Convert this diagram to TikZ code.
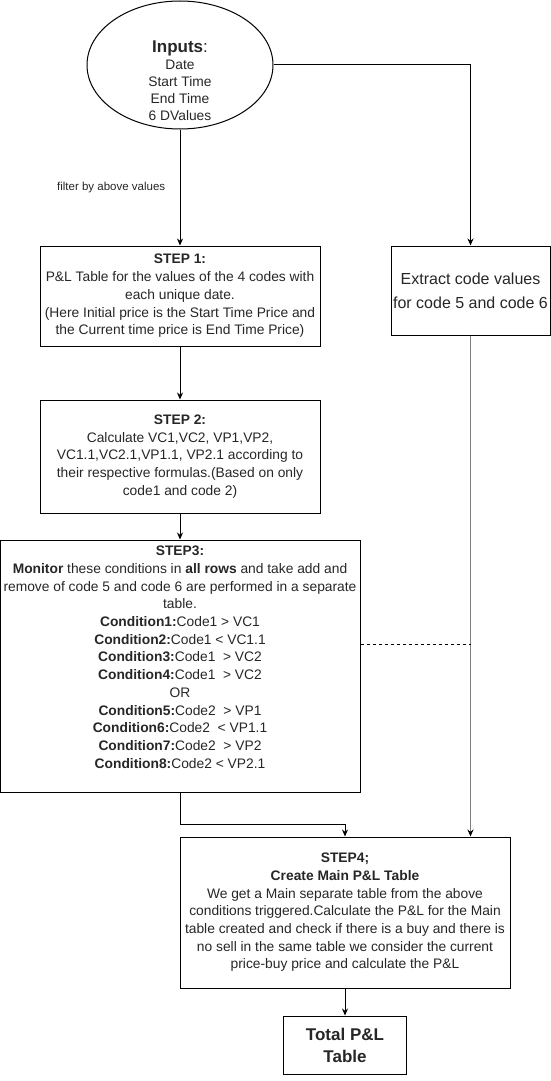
\documentclass[tikz,border=0pt]{standalone}
\usepackage{fontspec}
\setmainfont{Liberation Sans}
\usetikzlibrary{arrows.meta,positioning,shapes.geometric,calc}

\begin{document}
\begin{tikzpicture}[
  x=1pt, y=1pt,
  font=\fontsize{13.8}{17.7}\selectfont,
  n/.style={draw, line width=1pt, align=center, inner sep=0pt, text=black!85},
  d/.style={-{Stealth[length=7pt,width=6pt]}, line width=1pt},
  dg/.style={-{Stealth[length=7pt,width=6pt,color=black]}, line width=1pt, draw=black!50}
]
\useasboundingbox (0,0) rectangle (550,-1081);
\node[draw, ellipse, line width=1pt, minimum width=186pt, minimum height=128pt] (in) at (180,-65) {};
\node[align=center, text=black!85, font=\fontsize{13.8}{17}\selectfont] (intxt) at ([yshift=-16pt]in.center)
  {{\fontsize{17}{18}\selectfont\textbf{Inputs}:}\\Date\\Start Time\\End Time\\6 DValues};
\node[n, minimum width=280pt, minimum height=100pt, below=116pt of in] (s1)
  {\textbf{STEP 1:}\\P\&L Table for the values of the 4 codes with\\each unique date.\\(Here Initial price is the Start Time Price and\\the Current time price is End Time Price)};
\node[n, minimum width=159pt, minimum height=89pt, font=\fontsize{16}{24}\selectfont,
  below right=0pt and 70pt of s1.north east] (ex) {Extract code values\\for code 5 and code 6};
\node[n, minimum width=280pt, minimum height=113pt, below=53pt of s1] (s2)
  {\textbf{STEP 2:}\\Calculate VC1,VC2, VP1,VP2,\\VC1.1,VC2.1,VP1.1, VP2.1 according to\\their respective formulas.(Based on only\\code1 and code 2)};
\node[n, minimum width=360pt, minimum height=252pt, below=26pt of s2] (s3)
  {\textbf{STEP3:}\\
   \textbf{Monitor} these conditions in \textbf{all rows} and take add and\\
   remove of code 5 and code 6 are performed in a separate\\
   table.\\
   \textbf{Condition1:}Code1 > VC1\\
   \textbf{Condition2:}Code1 < VC1.1\\
   \textbf{Condition3:}Code1\ \ > VC2\\
   \textbf{Condition4:}Code1\ \ > VC2\\
   OR\\
   \textbf{Condition5:}Code2\ \ > VP1\\
   \textbf{Condition6:}Code2\ \ < VP1.1\\
   \textbf{Condition7:}Code2\ \ > VP2\\
   \textbf{Condition8:}Code2 < VP2.1\\
   \mbox{}};
\coordinate[below=32pt of s3.south] (k);
\node[n, minimum width=330pt, minimum height=151pt, below=44pt of s3, xshift=165pt] (s4)
  {\textbf{STEP4;}\\\textbf{Create Main P\&L Table}\\
   We get a Main separate table from the above\\
   conditions triggered.Calculate the P\&L for the Main\\
   table created and check if there is a buy and there is\\
   no sell in the same table we consider the current\\
   price-buy price and calculate the P\&L};
\node[n, minimum width=123pt, minimum height=58pt, font=\fontsize{17}{22}\selectfont\bfseries,
  below=27pt of s4] (tot) {Total P\&L\\Table};
\coordinate (dl) at ([yshift=22pt]s3.east);
\draw[d] (in) -- node[left=11pt, text=black!85, font=\fontsize{11.5}{13}\selectfont] (flt) {filter by above values} (s1);
\draw[d] (in.east) -| (ex.north);
\draw[d] (s1) -- (s2);
\draw[d] (s2) -- (s3);
\draw[d] (s3.south) -- (k) -| (s4.north);
\draw[dg] (ex.south) -- (ex.south |- s4.north);
\draw[dashed, line width=0.7pt] (dl) -- (dl -| ex.south);
\draw[d] (s4) -- (tot);
\end{tikzpicture}
\end{document}
